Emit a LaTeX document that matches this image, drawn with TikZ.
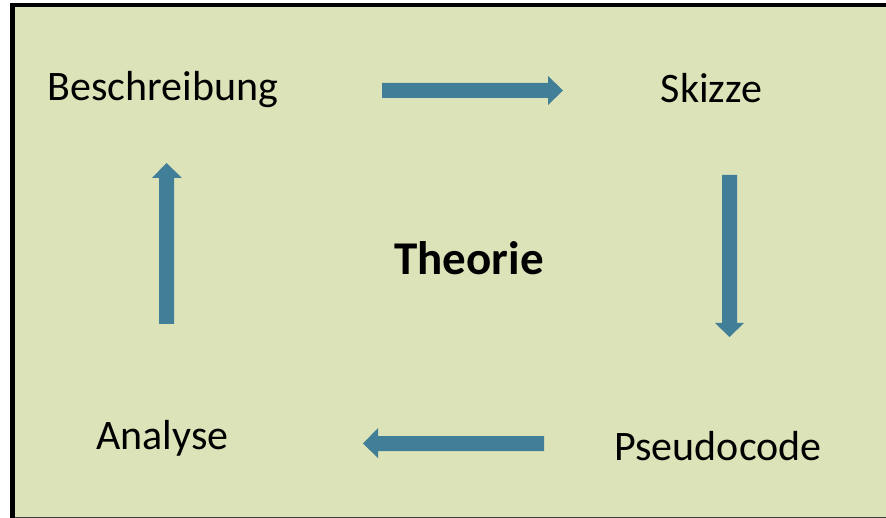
\documentclass[tikz,border=0pt]{standalone}
\usepackage{fontspec}
\setmainfont{Carlito}
\definecolor{bg}{RGB}{221,227,184}
\definecolor{arr}{RGB}{65,126,151}
\tikzset{
  lbl/.style={anchor=base, inner sep=0pt, font=\fontsize{42}{44}\selectfont},
  ttl/.style={anchor=base, inner sep=0pt, font=\fontsize{47}{49}\selectfont\bfseries},
  blockarrow/.style={fill=arr, draw=none}
}
\begin{document}
\begin{tikzpicture}[x=1pt,y=-1pt]
\useasboundingbox (0,0) rectangle (886,518);
\fill[white] (0,0) rectangle (886,518);
\fill[bg] (12.5,5) rectangle (886,517);
\draw[line width=0.8pt, black!75] (12.5,517) -- (886,517);
\draw[line width=4.5pt] (12.5,518) -- (12.5,5) -- (886,5);
% labels
\node[lbl] (besch) at (163,101) {Beschreibung};
\node[lbl] (skizze) at (711.5,103) {Skizze};
\node[ttl] (theorie) at (469,275) {Theorie};
\node[lbl] (pseudo) at (718,460) {Pseudocode};
\node[lbl] (analyse) at (162.5,449) {Analyse};
% block arrows
\fill[blockarrow] (382,83) -- (548,83) -- (548,76) -- (563,90.5) -- (548,105) -- (548,98) -- (382,98) -- cycle;
\fill[blockarrow] (722,175) -- (737,175) -- (737,323) -- (744,323) -- (729.5,337) -- (715,323) -- (722,323) -- cycle;
\fill[blockarrow] (544,436) -- (378,436) -- (378,428) -- (363,443.5) -- (378,458) -- (378,451) -- (544,451) -- cycle;
\fill[blockarrow] (159,324) -- (159,178) -- (152,178) -- (166.5,163) -- (182,178) -- (174,178) -- (174,324) -- cycle;
\end{tikzpicture}
\end{document}
